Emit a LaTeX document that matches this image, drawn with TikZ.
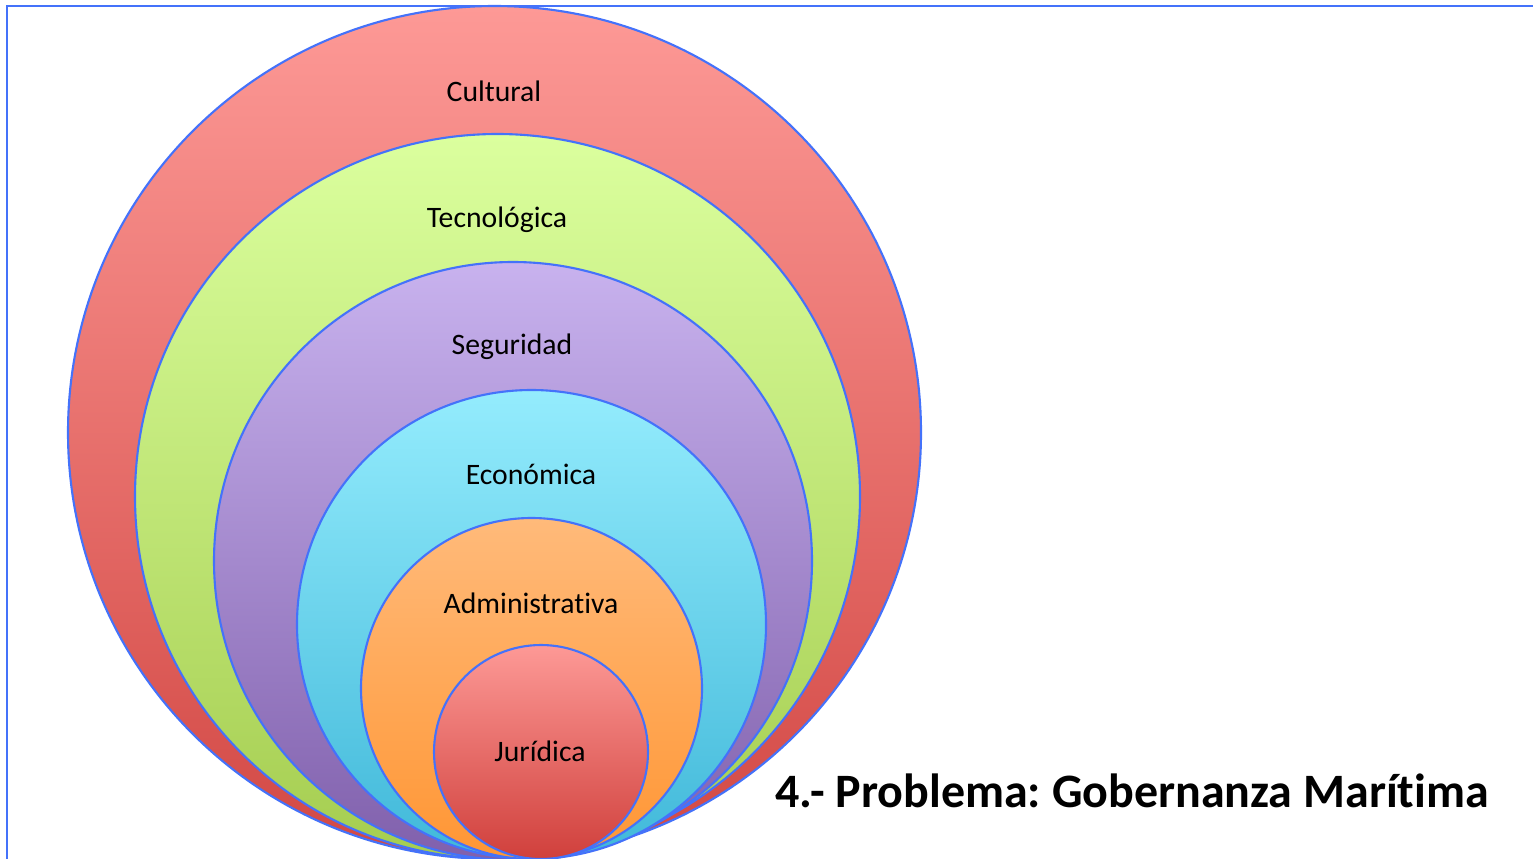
\documentclass[tikz,border=0pt]{standalone}
\usepackage{fontspec}
\setmainfont[RawFeature=-liga]{Carlito}
\usepackage{xcolor}
\definecolor{rim}{RGB}{68,114,250}
\definecolor{culA}{RGB}{253,153,150}
\definecolor{culB}{RGB}{210,72,68}
\definecolor{tecA}{RGB}{219,255,158}
\definecolor{tecB}{RGB}{165,205,80}
\definecolor{segA}{RGB}{200,178,238}
\definecolor{segB}{RGB}{128,96,172}
\definecolor{ecoA}{RGB}{148,236,253}
\definecolor{ecoB}{RGB}{64,184,217}
\definecolor{admA}{RGB}{255,186,122}
\definecolor{admB}{RGB}{255,150,52}
\definecolor{jurA}{RGB}{253,153,150}
\definecolor{jurB}{RGB}{208,64,60}
\tikzset{
  ring/.style={draw=rim, line width=1.2pt, shading=axis},
  ringlabel/.style={font=\fontsize{16.9}{20}\selectfont, text=black}
}
\frenchspacing

\begin{document}
\begin{tikzpicture}[x=0.02cm, y=-0.02cm]
\useasboundingbox (0,0) rectangle (1533,858);
% frame, only left and top edges show
\draw[rim, line width=1.2pt]
(7,870) -- (7,6) -- (1545,6);
% nested circles, all touching at the bottom
\shade[ring, top color=culA, bottom color=culB] (494.5,432.5) circle [radius=426.5];
\shade[ring, top color=tecA, bottom color=tecB] (497.5,496.5) circle [radius=362.5];
\shade[ring, top color=segA, bottom color=segB] (513,561) circle [radius=299];
\shade[ring, top color=ecoA, bottom color=ecoB] (531.5,624.5) circle [radius=234.5];
\shade[ring, top color=admA, bottom color=admB] (531.5,688.5) circle [radius=170.5];
\shade[ring, top color=jurA, bottom color=jurB] (541,752) circle [radius=107];
% labels
\node[ringlabel] (cultural) at (494,91) {Cultural};
\node[ringlabel] (tecno) at (497,220) {Tecnológica};
\node[ringlabel] (seguridad) at (512,347) {Seguridad};
\node[ringlabel] (economica) at (531,474) {Económica};
\node[ringlabel] (admin) at (531,603) {Administrativa};
\node[ringlabel] (juridica) at (540,751) {Jurídica};
\node[font=\fontsize{27.3}{32}\selectfont\bfseries] (titulo) at (1132,791) {4.- Problema: Gobernanza Marítima};
\end{tikzpicture}
\end{document}
